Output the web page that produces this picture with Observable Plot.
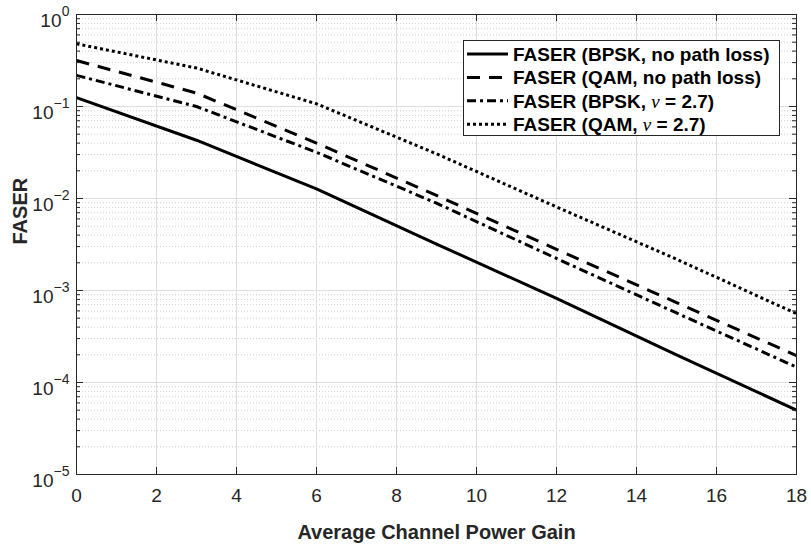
<!DOCTYPE html>
<html><head><meta charset="utf-8">
<script src="https://cdn.jsdelivr.net/npm/d3@7"></script>
<script src="https://cdn.jsdelivr.net/npm/@observablehq/plot@0.6"></script>
<style>html,body{margin:0;padding:0;background:#fff;} svg{display:block;}</style>
</head><body><div id="chart"></div>
<script>
// ---- data ----
const gain = [0, 3, 6, 9, 12, 15, 18];
const faserBpskNoLoss = [0.125, 0.043, 0.0127, 3.2e-3, 8.2e-4, 2.0e-4, 5.0e-5];
const faserQamNoLoss  = [0.316, 0.14, 0.040, 0.0108, 2.8e-3, 7.4e-4, 1.96e-4];
const faserBpskNu     = [0.218, 0.100, 0.0318, 8.9e-3, 2.23e-3, 5.7e-4, 1.47e-4];
const faserQamNu      = [0.48, 0.262, 0.107, 0.0306, 8.1e-3, 2.19e-3, 5.6e-4];
const seriesNames = ["FASER (BPSK, no path loss)", "FASER (QAM, no path loss)", "FASER (BPSK, ν = 2.7)", "FASER (QAM, ν = 2.7)"];
const xTicks = [0, 2, 4, 6, 8, 10, 12, 14, 16, 18];
const yExponents = [0, -1, -2, -3, -4, -5];
const xLabel = "Average Channel Power Gain";
const yLabel = "FASER";

// ---- styles ----
const dashes = [null, "13,9", "9,4,3,4", "3,3"];
const FONT = "'Liberation Sans', Arial, Helvetica, sans-serif";
const AX = "#262626";
const W = 811, H = 548, ML = 76, MR = 15, MT = 14, MB = 74;
const PW = W - ML - MR, PH = H - MT - MB;

const seriesValues = [faserBpskNoLoss, faserQamNoLoss, faserBpskNu, faserQamNu];
const series = seriesNames.map((name, k) => ({name, values: seriesValues[k], dash: dashes[k]}));

const yMajor = yExponents.map(e => Math.pow(10, e));
const yMinor = [];
for (const e of yExponents) { if (e === 0) continue; for (let k = 2; k <= 9; k++) yMinor.push(k * Math.pow(10, e)); }

const marks = [
  Plot.ruleY(yMinor, {stroke: "#cdcdcd", strokeDasharray: "1,2", strokeWidth: 1}),
  Plot.ruleX(xTicks, {stroke: "#dedede", strokeWidth: 1}),
  Plot.ruleY(yMajor, {stroke: "#dedede", strokeWidth: 1}),
  ...series.map(s => Plot.line(gain.map((g, i) => ({g, v: s.values[i]})), {
    x: "g", y: "v", stroke: "#000", strokeWidth: 3,
    strokeDasharray: s.dash || undefined, strokeLinecap: "butt", strokeLinejoin: "round"
  })),
  // inward ticks
  Plot.ruleX(xTicks, {insetTop: PH - 7, stroke: AX}),
  Plot.ruleX(xTicks, {insetBottom: PH - 7, stroke: AX}),
  Plot.ruleY(yMajor, {insetRight: PW - 7, stroke: AX}),
  Plot.ruleY(yMajor, {insetLeft: PW - 7, stroke: AX}),
  Plot.ruleY(yMinor, {insetRight: PW - 4, stroke: AX}),
  Plot.ruleY(yMinor, {insetLeft: PW - 4, stroke: AX}),
  Plot.frame({stroke: AX, strokeWidth: 1}),
  // x tick labels
  Plot.text(xTicks, {x: d => d, frameAnchor: "bottom", lineAnchor: "top", dy: 14, text: d => String(d),
    fontSize: 19, fill: AX, fontFamily: FONT}),
  // y tick labels: base "10" and superscript exponent
  Plot.text(yExponents.filter(e => e === 0), {y: e => Math.pow(10, e), frameAnchor: "left", textAnchor: "end",
    dx: -7 - 8, dy: 6.5, text: () => "10", fontSize: 19, fill: AX, fontFamily: FONT}),
  Plot.text(yExponents.filter(e => e !== 0), {y: e => Math.pow(10, e), frameAnchor: "left", textAnchor: "end",
    dx: -7 - 16, dy: 6.5, text: () => "10", fontSize: 19, fill: AX, fontFamily: FONT}),
  Plot.text(yExponents, {y: e => Math.pow(10, e), frameAnchor: "left", textAnchor: "end",
    dx: -7, dy: -2.5, text: e => (e < 0 ? "\u2212" + (-e) : String(e)), fontSize: 14, fill: AX, fontFamily: FONT}),
  // axis labels
  Plot.text([xLabel], {frameAnchor: "bottom", lineAnchor: "bottom", dy: 64, text: d => d,
    fontSize: 20, fontWeight: "bold", fill: AX, fontFamily: FONT}),
  Plot.text([yLabel], {frameAnchor: "left", lineAnchor: "bottom", dx: -49.5, rotate: -90, text: d => d,
    fontSize: 20, fontWeight: "bold", fill: AX, fontFamily: FONT})
];

const chart = Plot.plot({
  width: W, height: H,
  marginLeft: ML, marginRight: MR, marginTop: MT, marginBottom: MB,
  style: {fontFamily: FONT, background: "#fff", overflow: "visible"},
  x: {domain: [0, 18], axis: null},
  y: {type: "log", domain: [1e-5, 1], axis: null},
  marks
});
document.getElementById("chart").appendChild(chart);

// ---- legend ----
const svg = d3.select(chart);
const lg = svg.append("g").attr("text-anchor", "start");
lg.append("rect").attr("x", 463.5).attr("y", 40.5).attr("width", 316).attr("height", 95)
  .attr("fill", "#fff").attr("stroke", AX).attr("stroke-width", 1);
series.forEach((s, i) => {
  const by = 61 + i * 23.4;
  const ln = lg.append("line").attr("x1", 467).attr("x2", 508).attr("y1", by - 7).attr("y2", by - 7)
    .attr("stroke", "#000").attr("stroke-width", 3);
  if (s.dash) ln.attr("stroke-dasharray", s.dash);
  const t = lg.append("text").attr("x", 513).attr("y", by).attr("text-anchor", "start")
    .attr("font-family", FONT).attr("font-size", 19).attr("font-weight", "bold").attr("fill", "#000");
  const parts = s.name.split("ν");
  t.append("tspan").text(parts[0]);
  if (parts.length > 1) {
    t.append("tspan").attr("font-family", "'Liberation Serif', 'DejaVu Serif', serif")
      .attr("font-style", "italic").attr("font-weight", "normal").text("ν");
    t.append("tspan").text(parts[1]);
  }
});
</script>
</body></html>
